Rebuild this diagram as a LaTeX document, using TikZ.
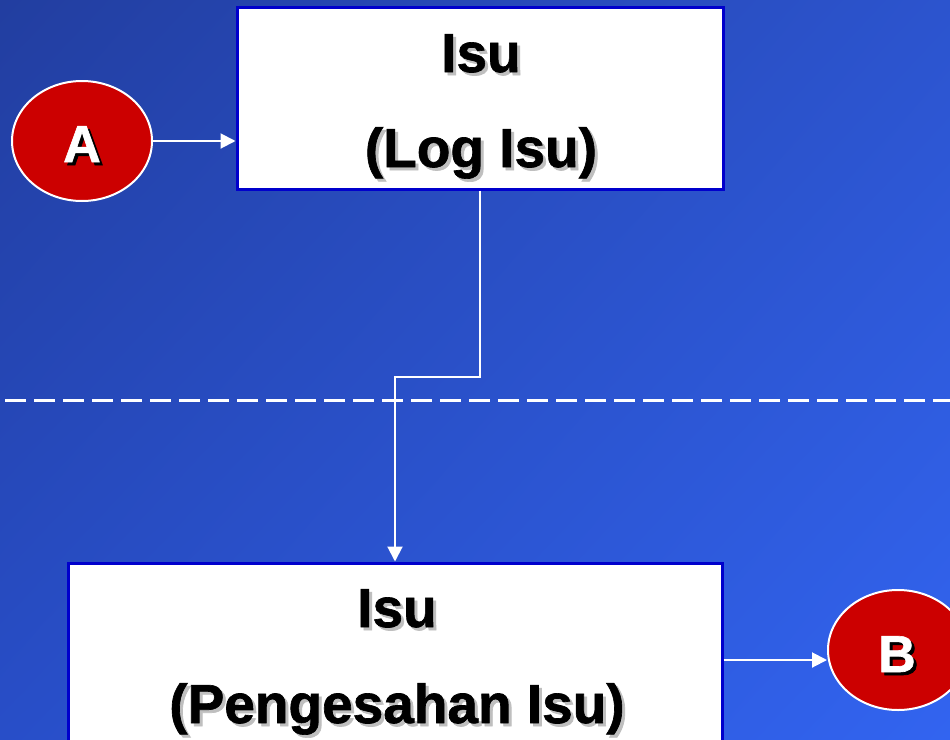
\documentclass[tikz,border=0pt]{standalone}
\usepackage{fontspec}
\setmainfont{Liberation Sans}
\newfontfamily\heavyfont{Liberation Sans Bold}[FakeBold=1.2]
\usetikzlibrary{shapes.geometric,arrows.meta,shadings}
\definecolor{bgTL}{RGB}{34,62,160}
\definecolor{bgTR}{RGB}{44,84,206}
\definecolor{bgBL}{RGB}{40,78,200}
\definecolor{bgBR}{RGB}{50,100,240}
\definecolor{boxblue}{RGB}{0,0,204}
\definecolor{circred}{RGB}{204,0,0}
\newcommand\shtext[2]{\leavevmode\rlap{\kern3pt\raisebox{-3pt}{\textcolor{#1}{#2}}}#2}
\begin{document}
\begin{tikzpicture}[x=1pt,y=-1pt,
  box/.style={draw=boxblue, line width=3pt, fill=white, rectangle, inner sep=0pt},
  boxtext/.style={anchor=base, inner sep=0pt, font=\fontsize{55}{60}\heavyfont, text=black},
  circ/.style={ellipse, draw=white, line width=2pt, fill=circred, minimum width=140pt, minimum height=120pt, inner sep=0pt},
  circtext/.style={anchor=base, inner sep=0pt, font=\fontsize{52}{56}\heavyfont, text=white},
  conn/.style={draw=white, line width=2pt, -{Triangle[length=15pt,width=15pt]}}
]
\useasboundingbox (0,0) rectangle (950,739);
\clip (0,0) rectangle (950,739);
\shade[upper left=bgTL, upper right=bgTR, lower left=bgBL, lower right=bgBR] (0,0) rectangle (950,739);
\draw[white, line width=3pt, dash pattern=on 21pt off 8pt] (5,400) -- (950,400);

\node[box, minimum width=486pt, minimum height=182pt] (top) at (480,98) {};
\node[boxtext] (topa) at (481,72) {\shtext{black!25}{Isu}};
\node[boxtext] (topb) at (481,167) {\shtext{black!25}{(Log Isu)}};

\node[box, minimum width=654pt, minimum height=200pt] (bot) at (395,663) {};
\node[boxtext] (bota) at (397,627) {\shtext{black!25}{Isu}};
\node[boxtext] (botb) at (397,723) {\shtext{black!25}{(Pengesahan Isu)}};

\node[circ] (A) at (82,141) {};
\node[circtext] (Atext) at (82,162) {\shtext{black}{A}};
\node[circ] (B) at (898,650) {};
\node[circtext] (Btext) at (897,672) {\shtext{black}{B}};

\draw[conn] (A.east) -- (top.west |- A.east);
\draw[conn] (top.south) -- ++(0,186) -| (bot.north);
\draw[conn] (bot.east |- 0,660) -- (B.west |- 0,660);
\end{tikzpicture}
\end{document}
